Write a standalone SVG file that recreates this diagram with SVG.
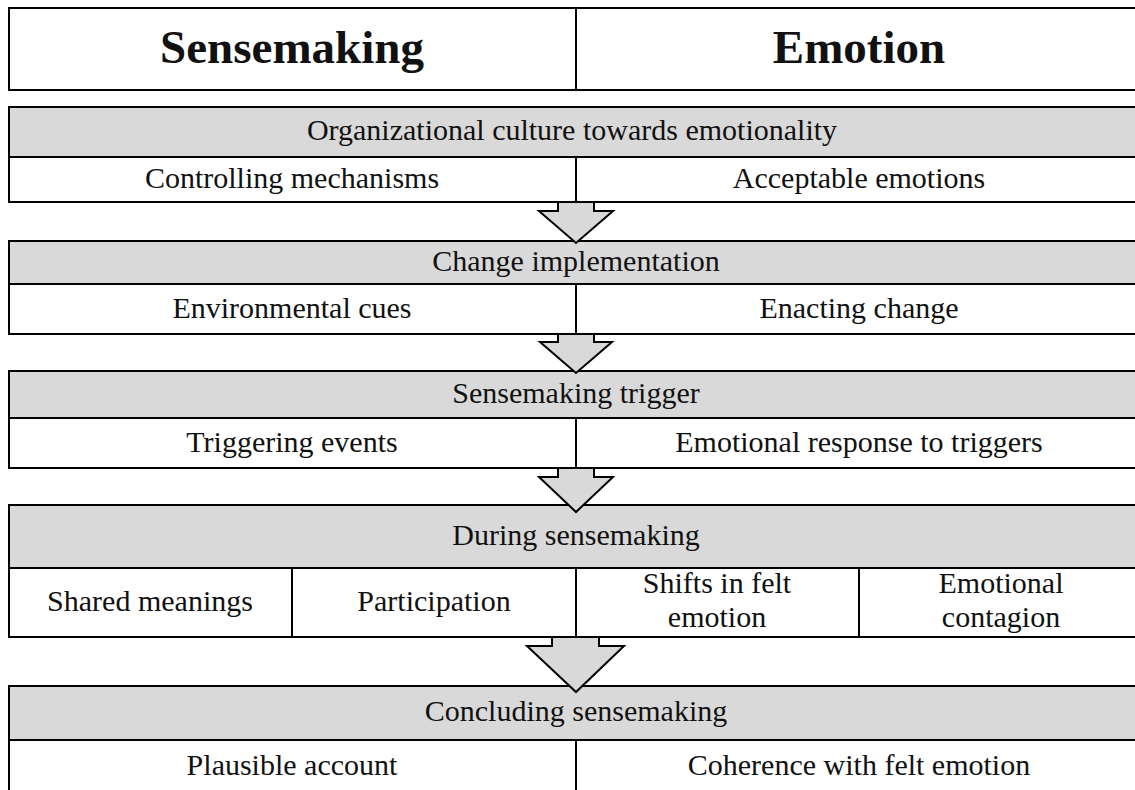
<svg xmlns="http://www.w3.org/2000/svg" width="1135" height="790" viewBox="0 0 1135 790">
  <style>
    .box { fill: #ffffff; stroke: #000000; stroke-width: 2; }
    .band { fill: #d9d9d9; stroke: #000000; stroke-width: 2; }
    .rule { stroke: #000000; stroke-width: 2; fill: none; }
    .arrow { fill: #d9d9d9; stroke: #000000; stroke-width: 2; stroke-linejoin: miter; }
    text { font-family: "Liberation Serif", "Times New Roman", serif; fill: #111111; text-anchor: middle; }
    .head { font-size: 47px; font-weight: bold; }
    .lbl { font-size: 30px; }
  </style>

  <rect width="1135" height="790" fill="#ffffff"/>

  <!-- Column headings -->
  <g id="header">
    <rect class="box" x="9" y="8" width="1134" height="82"/>
    <line class="rule" x1="576" y1="8" x2="576" y2="90"/>
    <text class="head" x="292" y="63">Sensemaking</text>
    <text class="head" x="859" y="63">Emotion</text>
  </g>

  <!-- Stage 1 -->
  <g id="stage-culture">
    <rect class="box" x="9" y="107" width="1134" height="95"/>
    <rect class="band" x="9" y="107" width="1134" height="50"/>
    <line class="rule" x1="576" y1="157" x2="576" y2="202"/>
    <text class="lbl" x="572" y="140">Organizational culture towards emotionality</text>
    <text class="lbl" x="292" y="188">Controlling mechanisms</text>
    <text class="lbl" x="859" y="188">Acceptable emotions</text>
  </g>

  <!-- Stage 2 -->
  <g id="stage-change">
    <rect class="box" x="9" y="241" width="1134" height="93"/>
    <rect class="band" x="9" y="241" width="1134" height="43"/>
    <line class="rule" x1="576" y1="284" x2="576" y2="334"/>
    <text class="lbl" x="576" y="271">Change implementation</text>
    <text class="lbl" x="292" y="318">Environmental cues</text>
    <text class="lbl" x="859" y="318">Enacting change</text>
  </g>

  <!-- Stage 3 -->
  <g id="stage-trigger">
    <rect class="box" x="9" y="371" width="1134" height="97"/>
    <rect class="band" x="9" y="371" width="1134" height="47"/>
    <line class="rule" x1="576" y1="418" x2="576" y2="468"/>
    <text class="lbl" x="576" y="403">Sensemaking trigger</text>
    <text class="lbl" x="292" y="452">Triggering events</text>
    <text class="lbl" x="859" y="452">Emotional response to triggers</text>
  </g>

  <!-- Stage 4 -->
  <g id="stage-during">
    <rect class="box" x="9" y="505" width="1134" height="132"/>
    <rect class="band" x="9" y="505" width="1134" height="63"/>
    <line class="rule" x1="292" y1="568" x2="292" y2="637"/>
    <line class="rule" x1="576" y1="568" x2="576" y2="637"/>
    <line class="rule" x1="859" y1="568" x2="859" y2="637"/>
    <text class="lbl" x="576" y="545">During sensemaking</text>
    <text class="lbl" x="150" y="611">Shared meanings</text>
    <text class="lbl" x="434" y="611">Participation</text>
    <text class="lbl" x="717" y="593">Shifts in felt</text>
    <text class="lbl" x="717" y="627">emotion</text>
    <text class="lbl" x="1001" y="593">Emotional</text>
    <text class="lbl" x="1001" y="627">contagion</text>
  </g>

  <!-- Stage 5 (continues below the page edge) -->
  <g id="stage-concluding">
    <rect class="box" x="9" y="686" width="1134" height="120"/>
    <rect class="band" x="9" y="686" width="1134" height="54"/>
    <line class="rule" x1="576" y1="740" x2="576" y2="806"/>
    <text class="lbl" x="576" y="721">Concluding sensemaking</text>
    <text class="lbl" x="292" y="775">Plausible account</text>
    <text class="lbl" x="859" y="775">Coherence with felt emotion</text>
  </g>

  <!-- Block arrows between stages -->
  <g id="connectors">
    <polygon class="arrow" points="558,202 558,211 539,211 576,243 613,211 594,211 594,202"/>
    <polygon class="arrow" points="558,334 558,342 540,342 576,373 612,342 594,342 594,334"/>
    <polygon class="arrow" points="558,468 558,477 539,477 576,512 613,477 594,477 594,468"/>
    <polygon class="arrow" points="552,637 552,646 527,646 576,692 624,646 599,646 599,637"/>
  </g>
</svg>
